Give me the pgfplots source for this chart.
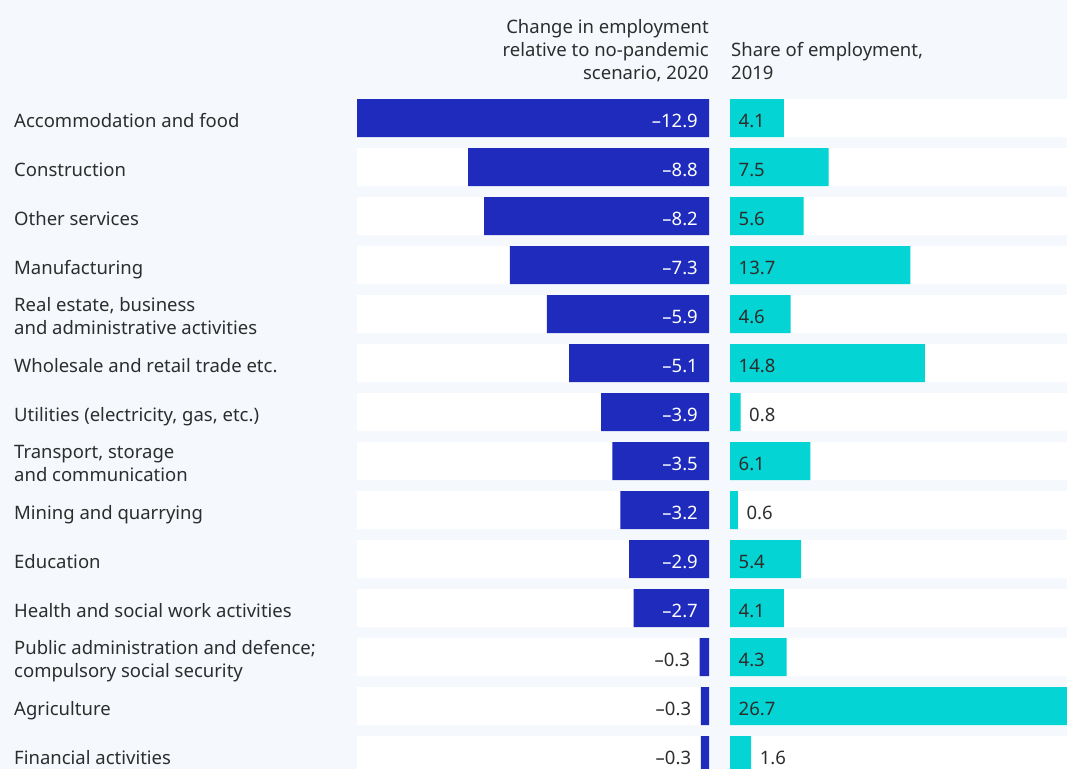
\documentclass[border=0pt]{standalone}
\usepackage{pgfplots}
\pgfplotsset{compat=1.18}
\usepackage{pgfplotstable}
\usepackage{fontspec}
\setmainfont{Noto Sans}
\definecolor{bg}{RGB}{245,249,253}
\definecolor{dblue}{RGB}{30,43,188}
\definecolor{cyanbar}{RGB}{4,212,212}
\definecolor{txt}{RGB}{45,45,45}
\newcommand{\ff}{\fontsize{18.5bp}{23bp}\selectfont}
\newcommand{\two}[2]{\raisebox{-11bp}{\begin{tabular}[b]{@{}l@{}}#1\\#2\end{tabular}}}

% left panel: change in employment (bar length, x of label, label)
\pgfplotstableread{
y v lx lab
0 -12.9 0 –12.9
1 -8.83 0 –8.8
2 -8.24 0 –8.2
3 -7.3 0 –7.3
4 -5.94 0 –5.9
5 -5.13 0 –5.1
6 -3.95 0 –3.9
7 -3.54 0 –3.5
8 -3.25 0 –3.2
9 -2.93 0 –2.9
10 -2.76 0 –2.7
11 -0.34 -0.34 –0.3
12 -0.3 -0.3 –0.3
13 -0.3 -0.3 –0.3
}\leftdata

% right panel: share of employment
\pgfplotstableread{
y v lx lab
0 4.1 0 4.1
1 7.5 0 7.5
2 5.6 0 5.6
3 13.7 0 13.7
4 4.6 0 4.6
5 14.8 0 14.8
6 0.8 0.8 0.8
7 6.1 0 6.1
8 0.6 0.6 0.6
9 5.4 0 5.4
10 4.1 0 4.1
11 4.3 0 4.3
12 26.7 0 26.7
13 1.6 1.6 1.6
}\rightdata

\begin{document}
\begin{tikzpicture}
\path[use as bounding box] (0bp,0bp) rectangle (1067bp,-769bp);
\fill[bg] (0bp,0bp) rectangle (1067bp,-769bp);

% headers
\node[anchor=base east, inner sep=0pt, text=txt, font=\ff] at (709bp,-33bp) {Change in employment};
\node[anchor=base east, inner sep=0pt, text=txt, font=\ff] at (709bp,-56bp) {relative to no-pandemic};
\node[anchor=base east, inner sep=0pt, text=txt, font=\ff] at (709bp,-79bp) {scenario, 2020};
\node[anchor=base west, inner sep=0pt, text=txt, font=\ff] at (731bp,-56bp) {Share of employment,};
\node[anchor=base west, inner sep=0pt, text=txt, font=\ff] at (731bp,-79bp) {2019};

\pgfplotsset{
  panel/.style={
    scale only axis, height=675.5bp,
    ymin=-0.5, ymax=13.286, y dir=reverse,
    axis line style={draw=none}, tick style={draw=none},
    major tick length=0pt, xtick=\empty,
    clip=true,
  },
}

\begin{axis}[panel,
  at={(357bp,-93.5bp)}, anchor=north west,
  width=352bp, xmin=-12.9, xmax=0,
  ytick={0,...,13},
  yticklabels={
    Accommodation and food,
    Construction,
    Other services,
    Manufacturing,
    {\two{Real estate, business}{and administrative activities}},
    Wholesale and retail trade etc.,
    {Utilities (electricity, gas, etc.)},
    {\two{Transport, storage}{and communication}},
    Mining and quarrying,
    Education,
    Health and social work activities,
    {\two{Public administration and defence;}{compulsory social security}},
    Agriculture,
    Financial activities},
  yticklabel style={anchor=base west, inner sep=0pt,
    xshift=-343bp, yshift=-9bp, font=\ff, text=txt},
]
\addplot[xbar, bar width=38bp, bar shift=0pt, fill=white, draw=none]
  coordinates {(-12.9,0) (-12.9,1) (-12.9,2) (-12.9,3) (-12.9,4) (-12.9,5) (-12.9,6)
               (-12.9,7) (-12.9,8) (-12.9,9) (-12.9,10) (-12.9,11) (-12.9,12) (-12.9,13)};
\addplot[xbar, bar width=38bp, bar shift=0pt, fill=dblue, draw=none]
  table[x=v, y=y] {\leftdata};
\addplot[draw=none, nodes near coords, point meta=explicit symbolic,
  skip coords between index={11}{14},
  every node near coord/.append style={anchor=base east, inner sep=0pt,
    xshift=-11bp, yshift=-9.3bp, font=\ff, text=white}]
  table[x=lx, y=y, meta=lab] {\leftdata};
\addplot[draw=none, nodes near coords, point meta=explicit symbolic,
  skip coords between index={0}{11},
  every node near coord/.append style={anchor=base east, inner sep=0pt,
    xshift=-9.5bp, yshift=-9.3bp, font=\ff, text=txt}]
  table[x=lx, y=y, meta=lab] {\leftdata};
\end{axis}

\begin{axis}[panel,
  at={(730bp,-93.5bp)}, anchor=north west,
  width=337bp, xmin=0, xmax=25.6,
  ytick=\empty,
]
\addplot[xbar, bar width=38bp, bar shift=0pt, fill=white, draw=none]
  coordinates {(30,0) (30,1) (30,2) (30,3) (30,4) (30,5) (30,6)
               (30,7) (30,8) (30,9) (30,10) (30,11) (30,12) (30,13)};
\addplot[xbar, bar width=38bp, bar shift=0pt, fill=cyanbar, draw=none]
  table[x=v, y=y] {\rightdata};
\addplot[draw=none, nodes near coords, point meta=explicit symbolic,
  every node near coord/.append style={anchor=base west, inner sep=0pt,
    xshift=8.5bp, yshift=-9.3bp, font=\ff, text=txt}]
  table[x=lx, y=y, meta=lab] {\rightdata};
\end{axis}
\end{tikzpicture}
\end{document}
